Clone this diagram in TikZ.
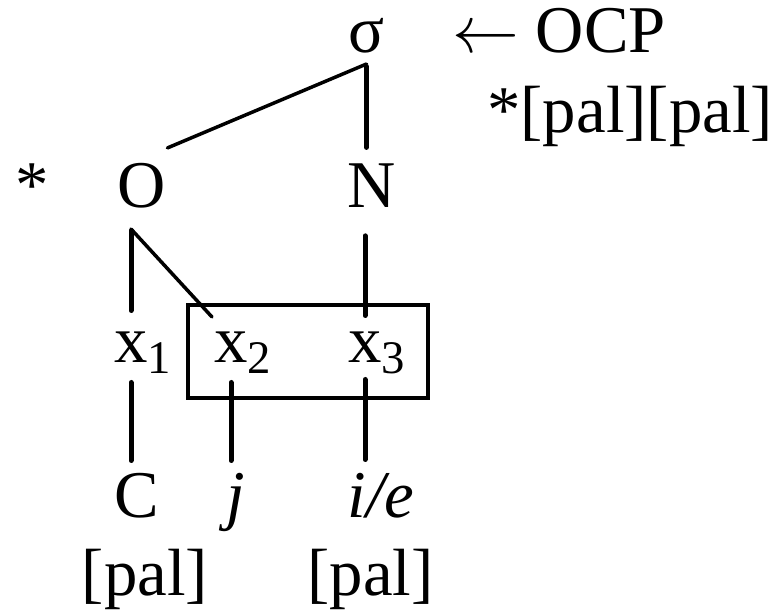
\RequirePackage{fix-cm}
\documentclass[tikz,border=0pt]{standalone}
\usepackage{fontspec}
\setmainfont{Liberation Serif}
\usetikzlibrary{calc}

\begin{document}
\begin{tikzpicture}[
    lbl/.style={anchor=base, inner sep=0pt},
    seg/.style={line width=0.100000cm, line cap=round},
    slant/.style={line width=0.070000cm, line cap=round},
    boxline/.style={line width=0.080000cm}]
% \clip (0,0) rectangle (15.460000,12.240000);
\useasboundingbox (0,0) rectangle (15.460000,12.240000);
{\fontsize{38}{46}\selectfont

% Marking point sigma
\node (sigma) [lbl] at (7.330000,11.180000) {σ};%

% Marking the OCP arrow
\node (ocp) [lbl, anchor=base west] at (9.040000,11.180000) {$\leftarrow$ OCP};%

% Marking the starred sequence
\node (ban) [lbl, anchor=base west] at (9.740000,9.580000) {*[pal][pal]};%

% Marking the star in front of O
\node (star) [lbl] at (0.640000,8.080000) {*};%

% Marking point O
\node (O) [lbl] at (2.830000,8.080000) {O};%

% Marking point N
\node (N) [lbl] at (7.440000,8.080000) {N};%

% Marking points x1 x2 x3 (subscript kept out of the width)
\node (x1) [lbl] at (2.620000,4.980000) {x\rlap{\textsubscript{1}}};%
\node (x2) [lbl] at (4.620000,4.980000) {x\rlap{\textsubscript{2}}};%
\node (x3) [lbl] at (7.300000,4.980000) {x\rlap{\textsubscript{3}}};%

% Marking points C j i/e
\node (C) [lbl] at (2.740000,1.880000) {C};%
\node (jj) [lbl] at (4.710000,1.880000) {\textit{j}};%
\node (ie) [lbl] at (7.620000,1.880000) {\textit{i/e}};%

% Marking the two [pal] features
\node (pal1) [lbl] at (2.900000,0.320000) {[pal]};%
\node (pal2) [lbl] at (7.410000,0.320000) {[pal]};%

% Drawing segment sigma N
\draw [seg, shorten <=0.25cm, shorten >=0.33cm] (sigma.south) -- (sigma.south |- N.north);%

% Drawing segment sigma O
\draw [slant] ($(sigma.south)+(0,-0.20)$) -- ($(O.north east)+(0.03,0.31)$);%

% Drawing segment O x1
\draw [seg, shorten <=0.43cm, shorten >=0.43cm] (O.south -| x1.north) -- (x1.north);%

% Drawing segment O x2
\draw [slant] ($(O.south -| x1.north)+(0,-0.40)$) -- ($(x2.north)+(-0.38,0.30)$);%

% Drawing segment N x3
\draw [seg, shorten <=0.55cm, shorten >=0.33cm] (N.south -| x3.north) -- (x3.north);%

% Drawing the box round x2 x3
\draw [boxline] ($(x2.base)+(-0.86,1.16)$) rectangle ($(x3.base)+(1.26,-0.70)$);%

% Drawing segment x1 C
\draw [seg, shorten <=0.39cm, shorten >=1.15cm] (x1.base) -- (x1.base |- C.base);%

% Drawing segment x2 j
\draw [seg, shorten <=0.39cm, shorten >=1.15cm] (x2.base) -- (x2.base |- jj.base);%

% Drawing segment x3 i/e
\draw [seg, shorten <=0.33cm, shorten >=1.17cm] (x3.base) -- (x3.base |- ie.base);%
}
\end{tikzpicture}
\end{document}
